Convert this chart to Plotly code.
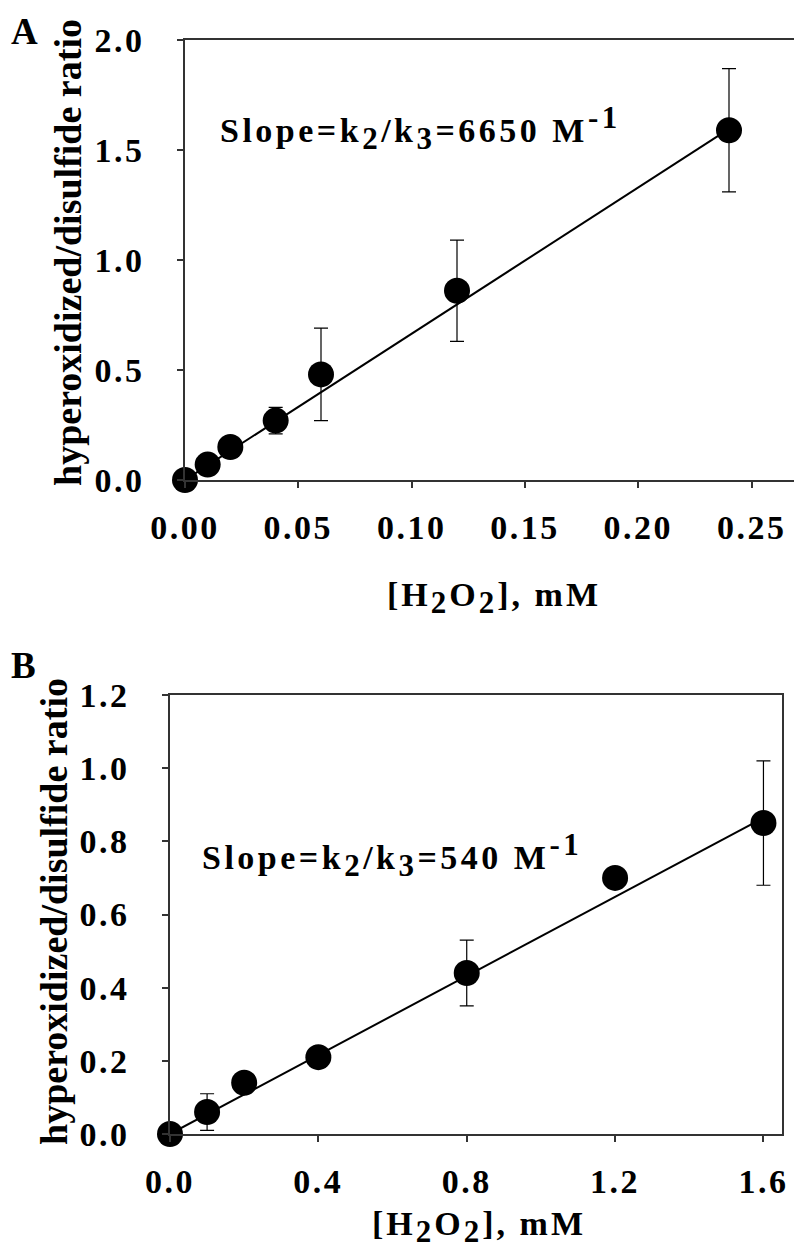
import plotly.graph_objects as go

# Panel A data
a_x = [0.0, 0.01, 0.02, 0.04, 0.06, 0.12, 0.24]
a_y = [0.0, 0.07, 0.15, 0.27, 0.48, 0.86, 1.59]
a_err = [0.0, 0.0, 0.0, 0.06, 0.21, 0.23, 0.28]
a_fit_x = [0.0, 0.24]
a_fit_y = [0.0, 1.596]
a_xticks = [0.0, 0.05, 0.10, 0.15, 0.20, 0.25]
a_xticklabels = ["0.00", "0.05", "0.10", "0.15", "0.20", "0.25"]
a_yticks = [0.0, 0.5, 1.0, 1.5, 2.0]
a_yticklabels = ["0.0", "0.5", "1.0", "1.5", "2.0"]

# Panel B data
b_x = [0.0, 0.1, 0.2, 0.4, 0.8, 1.2, 1.6]
b_y = [0.0, 0.06, 0.14, 0.21, 0.44, 0.70, 0.85]
b_err = [0.0, 0.05, 0.0, 0.0, 0.09, 0.0, 0.17]
b_fit_x = [0.0, 1.6]
b_fit_y = [0.0, 0.864]
b_xticks = [0.0, 0.4, 0.8, 1.2, 1.6]
b_xticklabels = ["0.0", "0.4", "0.8", "1.2", "1.6"]
b_yticks = [0.0, 0.2, 0.4, 0.6, 0.8, 1.0, 1.2]
b_yticklabels = ["0.0", "0.2", "0.4", "0.6", "0.8", "1.0", "1.2"]

# page body adds an 8px margin; compensate so the picture lines up with the window
OFF = 8
W, H = 802 - OFF, 1258 - OFF
FONT = "Liberation Serif"
TICKSIZE = 34
ANNSIZE = 34
YTITLESIZE = 38

def px_x(p):
    return (p - OFF) / W

def px_y(p):
    return 1 - (p - OFF) / H

def spaced(t, ls):
    return f"<span style='letter-spacing:{ls}px'>{t}</span>"

fig = go.Figure()

def add_panel(xs, ys, errs, fx, fy, xa, ya):
    fig.add_trace(go.Scatter(x=fx, y=fy, mode="lines", line=dict(color="black", width=2),
                             xaxis=xa, yaxis=ya, showlegend=False, hoverinfo="skip"))
    fig.add_trace(go.Scatter(x=xs, y=ys, mode="markers",
                             marker=dict(color="black", size=26),
                             error_y=dict(type="data", array=errs, visible=True, color="black",
                                          thickness=1.2, width=7),
                             xaxis=xa, yaxis=ya, showlegend=False, cliponaxis=False))

add_panel(a_x, a_y, a_err, a_fit_x, a_fit_y, "x", "y")
add_panel(b_x, b_y, b_err, b_fit_x, b_fit_y, "x2", "y2")

axis_common = dict(showline=True, linecolor="#333333", linewidth=1.5, mirror=True,
                   ticks="outside", ticklen=6, tickcolor="#333333", tickwidth=1.5,
                   showgrid=False, zeroline=False, automargin=False,
                   tickfont=dict(family=FONT, size=TICKSIZE, color="black", weight="bold"))

TLS = 2.5
XSTAND = 10
YSTAND = 26
fig.update_layout(
    width=W, height=H,
    margin=dict(l=0, r=0, t=0, b=0, pad=0, autoexpand=False),
    paper_bgcolor="white", plot_bgcolor="white",
    xaxis=dict(domain=[px_x(185), px_x(797)], range=[0, 0.27], anchor="y",
               tickvals=a_xticks, ticktext=[spaced(t, TLS) for t in a_xticklabels],
               ticklabelstandoff=XSTAND, **axis_common),
    yaxis=dict(domain=[px_y(480), px_y(40)], range=[0, 2.0], anchor="x",
               tickvals=a_yticks, ticktext=[spaced(t, TLS) for t in a_yticklabels],
               ticklabelstandoff=YSTAND, **axis_common),
    xaxis2=dict(domain=[px_x(170), px_x(782)], range=[0, 1.65], anchor="y2",
                tickvals=b_xticks, ticktext=[spaced(t, TLS) for t in b_xticklabels],
                ticklabelstandoff=XSTAND, **axis_common),
    yaxis2=dict(domain=[px_y(1134), px_y(695)], range=[0, 1.2], anchor="x2",
                tickvals=b_yticks, ticktext=[spaced(t, TLS) for t in b_yticklabels],
                ticklabelstandoff=YSTAND, **axis_common),
)

def sub(t, size):
    return f"<sub><span style='font-size:{size}px'>{t}</span></sub>"

def sup(t, size):
    return f"<sup><span style='font-size:{size}px'>{t}</span></sup>"

def font(size):
    return dict(family=FONT, size=size, color="black", weight="bold")

ylabel = "hyperoxidized/disulfide ratio"
xlabel = spaced("[H" + sub("2", 31) + "O" + sub("2", 31) + "], mM", 3)
slope_a = spaced("Slope=k" + sub("2", 31) + "/k" + sub("3", 31) + "=6650 M" + sup("-1", 31), 3.5)
slope_b = spaced("Slope=k" + sub("2", 31) + "/k" + sub("3", 31) + "=540 M" + sup("-1", 31), 3.5)

anns = [
    dict(text="A", x=px_x(9), y=px_y(9), xanchor="left", yanchor="top", font=font(37)),
    dict(text="B", x=px_x(9), y=px_y(665), xanchor="left", yanchor="middle", font=font(37)),
    dict(text=ylabel, x=px_x(68), y=px_y(253), textangle=-90, xanchor="center", yanchor="middle",
         font=font(YTITLESIZE)),
    dict(text=ylabel, x=px_x(54), y=px_y(912), textangle=-90, xanchor="center", yanchor="middle",
         font=font(YTITLESIZE)),
    dict(text=xlabel, x=px_x(385), y=px_y(598), xanchor="left", yanchor="middle", font=font(ANNSIZE)),
    dict(text=xlabel, x=px_x(370), y=px_y(1227), xanchor="left", yanchor="middle", font=font(ANNSIZE)),
    dict(text=slope_a, x=px_x(218), y=px_y(128), xanchor="left", yanchor="middle", font=font(ANNSIZE)),
    dict(text=slope_b, x=px_x(200), y=px_y(855), xanchor="left", yanchor="middle", font=font(ANNSIZE)),
]
for a in anns:
    a.update(xref="paper", yref="paper", showarrow=False)
    fig.add_annotation(**a)

fig.write_html("out.html")
